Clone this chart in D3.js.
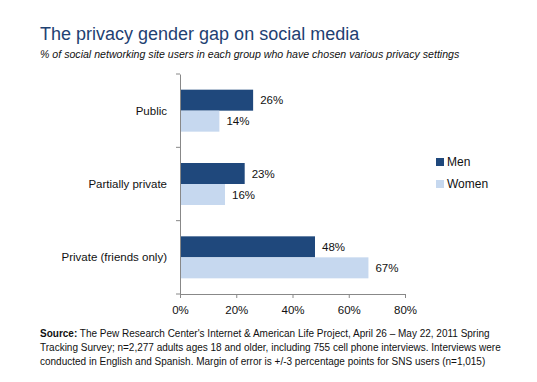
<!DOCTYPE html>
<html>
<head>
<meta charset="utf-8">
<script src="https://cdn.jsdelivr.net/npm/d3@7"></script>
<style>
  body { margin: 0; background: #fff; }
  svg { display: block; font-family: "Liberation Sans", Arial, sans-serif; }
</style>
</head>
<body>
<div id="chart"></div>
<script>
const categories = ["Public", "Partially private", "Private (friends only)"];
const seriesNames = ["Men", "Women"];
const menValues = [26, 23, 48];
const womenValues = [14, 16, 67];
const xTicks = [0, 20, 40, 60, 80];
const sourceLines = [
  ["Source:", " The Pew Research Center's Internet & American Life Project, April 26 \u2013 May 22, 2011 Spring"],
  ["", "Tracking Survey; n=2,277 adults ages 18 and older, including 755 cell phone interviews. Interviews were"],
  ["", "conducted in English and Spanish. Margin of error is +/-3 percentage points for SNS users (n=1,015)"]
];

const width = 537, height = 382;
const colors = ["#1f487c", "#c6d8ef"];
const margin = { top: 74, left: 180, bottom: 88 };
const plotW = 225;

const svg = d3.select('#chart')
  .append('svg')
  .attr('width', width)
  .attr('height', height);

// title
svg.append('text')
  .attr('x', 40).attr('y', 40)
  .style('font-size', '18px')
  .style('fill', '#1f4172')
  .text('The privacy gender gap on social media');

svg.append('text')
  .attr('x', 40).attr('y', 58)
  .style('font-size', '10.6px')
  .style('font-style', 'italic')
  .style('fill', '#111')
  .text('% of social networking site users in each group who have chosen various privacy settings');

const x = d3.scaleLinear()
  .domain([0, 80])
  .range([margin.left, margin.left + plotW]);

const y = d3.scaleBand()
  .domain(categories)
  .range([margin.top, height - margin.bottom]);

const sub = d3.scaleBand()
  .domain(seriesNames)
  .range([0, 42]);

// bars
const rows = categories.map((c, i) => ({ cat: c, vals: [menValues[i], womenValues[i]] }));

const groups = svg.selectAll('.grp')
  .data(rows)
  .enter()
  .append('g')
  .attr('transform', d => `translate(0, ${y(d.cat) + y.bandwidth() / 2 - 21})`);

groups.selectAll('rect')
  .data(d => d.vals.map((v, j) => ({ v: v, s: seriesNames[j], j: j })))
  .enter()
  .append('rect')
  .attr('x', x(0))
  .attr('y', d => sub(d.s))
  .attr('width', d => x(d.v) - x(0))
  .attr('height', sub.bandwidth())
  .attr('fill', d => colors[d.j]);

groups.selectAll('.lbl')
  .data(d => d.vals.map((v, j) => ({ v: v, s: seriesNames[j] })))
  .enter()
  .append('text')
  .attr('x', d => x(d.v) + 7)
  .attr('y', d => sub(d.s) + sub.bandwidth() / 2)
  .attr('dy', '0.35em')
  .style('font-size', '11.5px')
  .style('fill', '#111')
  .text(d => d.v + '%');

// category labels
svg.selectAll('.cat')
  .data(categories)
  .enter()
  .append('text')
  .attr('x', 167)
  .attr('y', d => y(d) + y.bandwidth() / 2)
  .attr('dy', '0.35em')
  .attr('text-anchor', 'end')
  .style('font-size', '11.5px')
  .style('fill', '#111')
  .text(d => d);

// y axis line with ticks between categories
const yAxis = svg.append('g')
  .attr('transform', `translate(${margin.left}, 0)`)
  .call(d3.axisLeft(y).tickValues([]).tickSizeOuter(0));
yAxis.select('.domain').attr('stroke', '#888');
yAxis.selectAll('.sep')
  .data(categories)
  .enter()
  .append('line')
  .attr('x1', -4).attr('x2', 0)
  .attr('y1', d => y(d)).attr('y2', d => y(d))
  .attr('stroke', '#888');
yAxis.append('line')
  .attr('x1', -4).attr('x2', 0)
  .attr('y1', height - margin.bottom).attr('y2', height - margin.bottom)
  .attr('stroke', '#888');

// x axis
const xAxis = svg.append('g')
  .attr('transform', `translate(0, ${height - margin.bottom})`)
  .call(d3.axisBottom(x).tickValues(xTicks).tickFormat(d => d + '%').tickSize(4).tickSizeOuter(0).tickPadding(8));
xAxis.select('.domain').attr('stroke', '#888');
xAxis.selectAll('.tick line').attr('stroke', '#888');
xAxis.selectAll('text')
  .style('font-size', '11.5px')
  .style('font-family', '"Liberation Sans", Arial, sans-serif')
  .style('fill', '#111');

// legend
const legend = svg.selectAll('.leg')
  .data(seriesNames)
  .enter()
  .append('g')
  .attr('transform', (d, i) => `translate(436, ${162 + i * 22})`);
legend.append('rect')
  .attr('x', 0).attr('y', -4)
  .attr('width', 8).attr('height', 8)
  .attr('fill', (d, i) => colors[i]);
legend.append('text')
  .attr('x', 11).attr('y', 0)
  .attr('dy', '0.35em')
  .style('font-size', '12px')
  .style('fill', '#111')
  .text(d => d);

// source note
const src = svg.append('g');
sourceLines.forEach((ln, i) => {
  const t = src.append('text')
    .attr('x', 40)
    .attr('y', 337 + i * 14)
    .style('font-size', '10px')
    .style('fill', '#111');
  if (ln[0]) t.append('tspan').style('font-weight', 'bold').text(ln[0]);
  t.append('tspan').text(ln[1]);
});
</script>
</body>
</html>
